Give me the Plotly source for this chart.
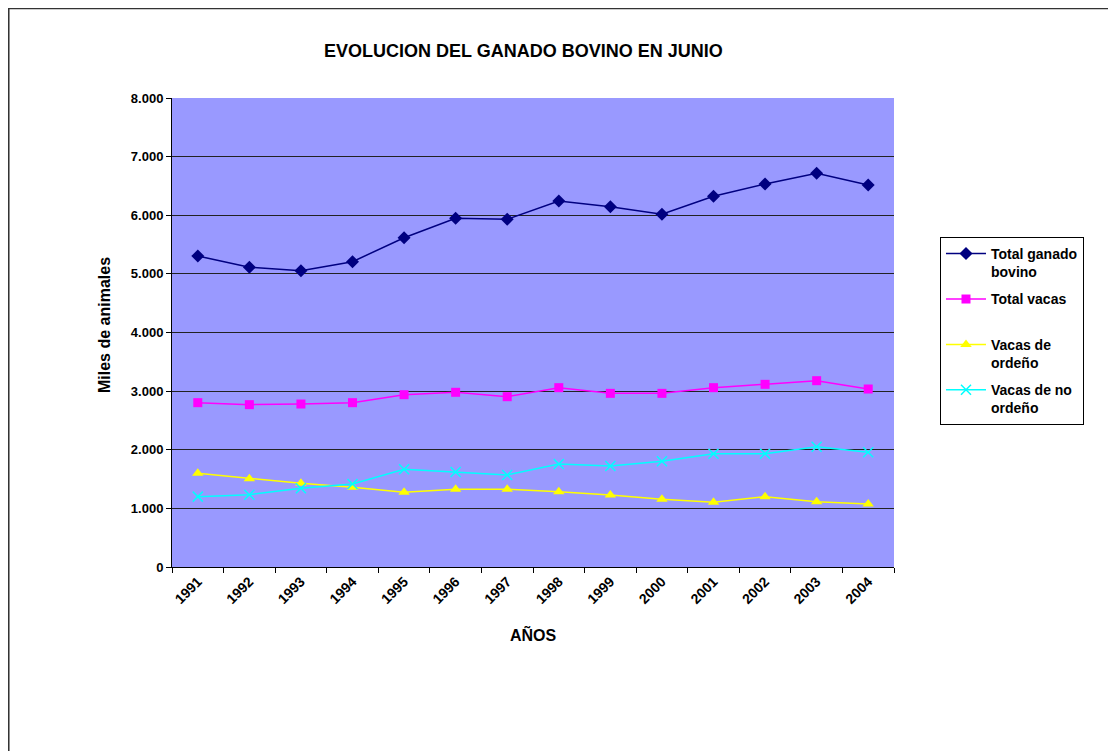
import plotly.graph_objects as go

years = ["1991", "1992", "1993", "1994", "1995", "1996", "1997",
         "1998", "1999", "2000", "2001", "2002", "2003", "2004"]
total_ganado = [5305, 5112, 5055, 5208, 5617, 5948, 5931,
                6243, 6146, 6016, 6323, 6533, 6715, 6516]
total_vacas = [2803, 2769, 2780, 2803, 2939, 2980, 2905,
               3059, 2962, 2962, 3059, 3116, 3178, 3036]
vacas_ordeno = [1598, 1507, 1427, 1359, 1274, 1325, 1325,
                1285, 1228, 1154, 1103, 1200, 1114, 1075]
vacas_no_ordeno = [1200, 1234, 1342, 1416, 1666, 1620, 1569,
                   1757, 1723, 1803, 1933, 1933, 2052, 1956]

names = ["Total ganado<br>bovino", "Total vacas<br> ", "Vacas de<br>ordeño", "Vacas de no<br>ordeño"]
FONT = "Liberation Sans, Arial, sans-serif"

fig = go.Figure()
fig.add_trace(go.Scatter(x=years, y=total_ganado, name=names[0], mode="lines+markers",
                         line=dict(color="#000080", width=1.5),
                         marker=dict(symbol="diamond", size=10, color="#000080"),
                         legendgroup="a"))
fig.add_trace(go.Scatter(x=years, y=total_vacas, name=names[1], mode="lines+markers",
                         line=dict(color="#FF00FF", width=1.5),
                         marker=dict(symbol="square", size=9, color="#FF00FF"),
                         legendgroup="b"))
fig.add_trace(go.Scatter(x=years, y=vacas_ordeno, name=names[2], mode="lines+markers",
                         line=dict(color="#FFFF00", width=1.5),
                         marker=dict(symbol="triangle-up", size=10, color="#FFFF00"),
                         legendgroup="c"))
fig.add_trace(go.Scatter(x=years, y=vacas_no_ordeno, name=names[3], mode="lines+markers",
                         line=dict(color="#00FFFF", width=1.5),
                         marker=dict(symbol="x-thin", size=10, color="#00FFFF",
                                     line=dict(color="#00FFFF", width=1.5)),
                         legendgroup="d"))

fig.update_layout(
    width=1108, height=743,
    margin=dict(l=164, r=222, t=90, b=184),
    paper_bgcolor="white",
    plot_bgcolor="#9999FF",
    separators=",.",
    font=dict(family=FONT, color="black"),
    showlegend=True,
    legend=dict(
        x=1.0637, y=0.7036, xanchor="left", yanchor="top",
        bgcolor="white", bordercolor="black", borderwidth=1,
        font=dict(family=FONT, size=14, weight="bold", color="black"),
        valign="top", tracegroupgap=6, itemwidth=40,
        entrywidth=112, entrywidthmode="pixels",
    ),
    xaxis=dict(
        type="category",
        range=[-0.5, len(years) - 0.5],
        tickson="boundaries",
        ticks="outside", ticklen=5, tickcolor="black",
        tickangle=-45,
        tickfont=dict(family=FONT, size=14, weight="bold", color="black"),
        showline=True, linecolor="black", linewidth=1,
        showgrid=False, zeroline=False,
    ),
    yaxis=dict(
        range=[0, 8000], tickvals=[0, 1000, 2000, 3000, 4000, 5000, 6000, 7000, 8000],
        tickformat=",d",
        ticks="outside", ticklen=5, tickcolor="black",
        tickfont=dict(family=FONT, size=13, weight="bold", color="black"),
        showline=True, linecolor="black", linewidth=1,
        showgrid=True, gridcolor="#222222", gridwidth=1,
        zeroline=False,
    ),
    annotations=[
        dict(text="EVOLUCION DEL GANADO BOVINO EN JUNIO", xref="paper", yref="paper",
             x=0.4875, y=1.100, showarrow=False, xanchor="center", yanchor="middle",
             font=dict(family=FONT, size=18, weight="bold", color="black")),
        dict(text="AÑOS", xref="paper", yref="paper",
             x=0.5, y=-0.1429, showarrow=False, xanchor="center", yanchor="middle",
             font=dict(family=FONT, size=16, weight="bold", color="black")),
        dict(text="Miles de animales", xref="paper", yref="paper",
             x=-0.0928, y=0.516, showarrow=False, xanchor="center", yanchor="middle",
             textangle=-90,
             font=dict(family=FONT, size=16, weight="bold", color="black")),
    ],
    shapes=[
        dict(type="rect", xref="paper", yref="paper",
             x0=-0.2264, x1=1.4, y0=-0.5, y1=1.1913,
             line=dict(color="#333333", width=2), fillcolor="rgba(0,0,0,0)", layer="below"),
    ],
)

fig.write_html("out.html")
